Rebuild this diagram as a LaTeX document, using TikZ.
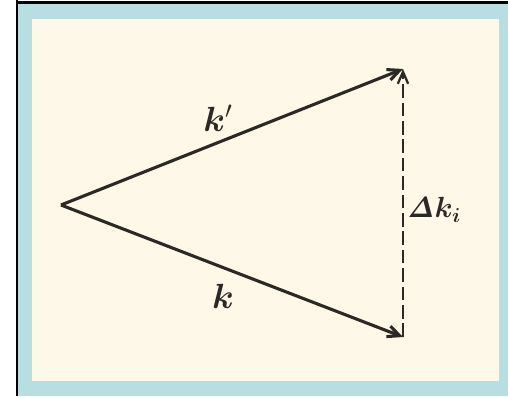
\documentclass[tikz,border=0pt]{standalone}
\usepackage{amsmath}
\usepackage{bm}
\usepackage{tikz}
\usepackage{xcolor}
\usetikzlibrary{arrows.meta,positioning}
\definecolor{frameblue}{HTML}{B7DFE2}
\definecolor{scanpaper}{HTML}{FEF8E8}
\definecolor{scanink}{HTML}{2B2926}
\tikzset{
  vecarr/.style={-{Straight Barb[length=3mm,width=2.8mm]},line width=2.2pt,
                 draw=scanink},
  diffarr/.style={-{Straight Barb[length=3mm,width=2.6mm]},line width=1.6pt,
                  draw=scanink,dash pattern=on 3.4mm off 1.2mm},
  veclabel/.style={text=scanink,font=\fontsize{27}{30}\selectfont,inner sep=1pt}
}

\begin{document}
\begin{tikzpicture}[x=1cm,y=1cm]
    \path[use as bounding box] (0,0) rectangle (12.7,9.9);
    \fill[frameblue] (0.45,0) rectangle (12.7,9.85);
    \fill[scanpaper] (0.8,0.375) rectangle (12.475,9.425);
    \draw[black,line width=1.4pt] (0.425,0) -- (0.425,9.9);
    \draw[black,line width=2pt] (0.4,9.84) -- (12.7,9.84);
    \coordinate (apex) at (1.525,4.775);
    \coordinate (ktip) at (10.075,1.475);
    \coordinate (kptip) at (10.075,8.175);
    \draw[vecarr] (apex) -- (kptip);
    \draw[vecarr] (apex) -- (ktip);
    \draw[diffarr] (ktip) -- (kptip);
    \node[veclabel] (kplabel) at (5.45,6.95) {$\bm{k}'$};
    \node[veclabel] (klabel) at (5.575,2.5) {$\bm{k}$};
    \node[veclabel,font=\fontsize{20}{24}\selectfont] (dklabel) at (10.85,4.65)
      {$\bm{\mathit{\Delta}\bm{k}}_{\bm{i}}$};
  \end{tikzpicture}
\end{document}
